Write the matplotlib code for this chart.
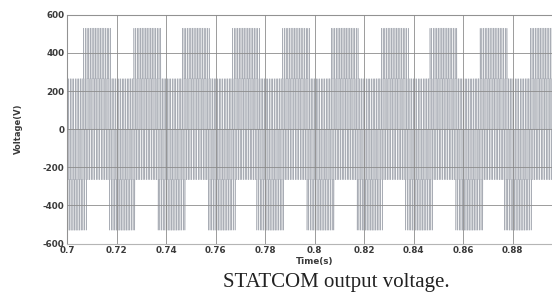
import numpy as np
import matplotlib
matplotlib.use('Agg')
import matplotlib.pyplot as plt

plt.rcParams['axes.unicode_minus'] = False

# values
t_start, t_end = 0.70, 0.90
f_fund = 50.0            # Hz, spacing of the +530 V blocks
t_peak = 0.7123          # centre of the first +530 V block
v_step = 265.0           # spacing between output levels (V)
n_levels = 2             # levels -530, -265, 0, 265, 530
ref_amp = 253.0          # reference amplitude (V)
carrier_amp = 453.0      # carrier amplitude (V)
f_carrier = 1480.0       # switching frequency (Hz)

x_ticks = [0.7, 0.72, 0.74, 0.76, 0.78, 0.8, 0.82, 0.84, 0.86, 0.88]
x_labels = ['0.7', '0.72', '0.74', '0.76', '0.78', '0.8', '0.82', '0.84', '0.86', '0.88']
y_ticks = [-600, -400, -200, 0, 200, 400, 600]

# PWM output: quantised reference + triangle carrier
t = np.linspace(t_start, t_end, 400001)
ref = ref_amp * np.cos(2 * np.pi * f_fund * (t - t_peak))
phase = (t * f_carrier) % 1.0
carrier = carrier_amp * (4 * np.abs(phase - 0.5) - 1)
idx = np.clip(np.round((ref + carrier) / v_step), -n_levels, n_levels)
v = idx * v_step

fig = plt.figure(figsize=(5.52, 3.04), dpi=100)
ax = fig.add_axes([0.1214, 0.199, 0.897, 0.752])

ax.plot(t, v, drawstyle='steps-post', color='#a9adb5', lw=0.42)

ax.set_xlim(t_start, t_end)
ax.set_ylim(-600, 600)
ax.set_xticks(x_ticks)
ax.set_xticklabels(x_labels)
ax.set_yticks(y_ticks)
ax.grid(True, color='#8c8c8c', lw=0.6)
ax.set_axisbelow(False)
ax.tick_params(length=0, pad=2, labelsize=6.3, labelcolor='#3a3a3a')
for lab in ax.get_xticklabels() + ax.get_yticklabels():
    lab.set_fontweight('bold')
for s in ax.spines.values():
    s.set_color('#b5b5b5')
    s.set_linewidth(0.8)

ax.set_xlabel('Time(s)', fontsize=6.3, fontweight='bold', color='#3a3a3a', labelpad=1)
ax.set_ylabel('Voltage(V)', fontsize=6.0, fontweight='bold', color='#3a3a3a', labelpad=14)

fig.text(0.61, 0.07, 'STATCOM output voltage.', family='Liberation Serif',
         fontsize=15, color='#222222', ha='center', va='center')

fig.savefig('out.png', dpi=100)
